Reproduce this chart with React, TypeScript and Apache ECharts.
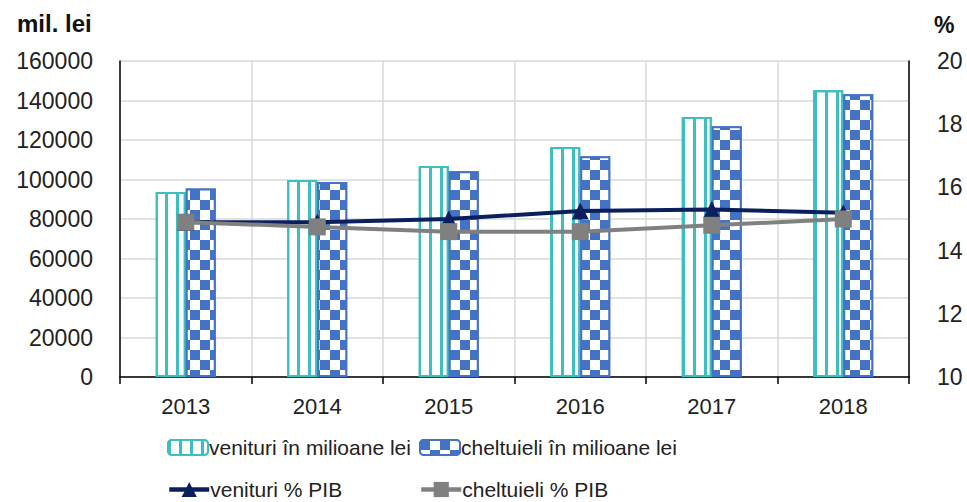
import React, { useEffect, useRef } from "react";
import * as echarts from "echarts";

const years = ["2013", "2014", "2015", "2016", "2017", "2018"];
const venituriMil = [93700, 99700, 106800, 116400, 131600, 145200];
const cheltuieliMil = [95400, 98700, 104200, 111800, 127000, 143200];
const venituriPib = [14.9, 14.9, 15.0, 15.25, 15.3, 15.2];
const cheltuieliPib = [14.9, 14.75, 14.6, 14.6, 14.8, 15.0];

const FONT = "Liberation Sans";
const TEAL = "#3BBFBF";
const BLUE = "#4472C4";
const NAVY = "#0B1F5E";
const GRAY = "#808080";

export default function App() {
  const ref = useRef<HTMLDivElement>(null);
  useEffect(() => {
    if (!ref.current) return;
    const chart = echarts.init(ref.current, undefined, { renderer: "svg" });
    const legendText = { fontFamily: FONT, fontSize: 21, color: "#222" };
    const mkLegend = (name: string, left: number, top: number, h: number, line: boolean) => ({
      data: [name],
      left,
      top,
      padding: 0,
      itemWidth: 40,
      itemHeight: h,
      itemGap: 0,
      textStyle: { ...legendText, padding: [0, 0, 0, -4] },
      ...(line ? { lineStyle: { width: 4.5 } } : {}),
    });
    chart.setOption({
      animation: false,
      backgroundColor: "#fff",
      textStyle: { fontFamily: FONT },
      grid: { left: 120, right: 58, top: 61, bottom: 125 },
      legend: [
        mkLegend("venituri în milioane lei", 167, 437, 15, false),
        mkLegend("cheltuieli în milioane lei", 419, 437, 15, false),
        mkLegend("venituri % PIB", 167, 479, 19, true),
        mkLegend("cheltuieli % PIB", 419, 479, 19, true),
      ],
      graphic: [
        {
          type: "text",
          left: 17,
          top: 11,
          style: { text: "mil. lei", font: `bold 24px ${FONT}`, fill: "#111" },
        },
        {
          type: "text",
          left: 934,
          top: 13,
          style: { text: "%", font: `bold 23px ${FONT}`, fill: "#111" },
        },
      ],
      xAxis: {
        type: "category",
        data: years,
        boundaryGap: true,
        axisLine: { lineStyle: { color: "#000", width: 1.5 } },
        axisTick: { show: true, length: 7, lineStyle: { color: "#000", width: 1.5 } },
        axisLabel: { fontFamily: FONT, fontSize: 22, color: "#222", margin: 18 },
        splitLine: { show: true, lineStyle: { color: "#d9d9d9", width: 1.5 } },
      },
      yAxis: [
        {
          type: "value",
          min: 0,
          max: 160000,
          interval: 20000,
          axisLine: { show: true, lineStyle: { color: "#000", width: 1.5 } },
          axisTick: { show: false },
          axisLabel: {
            fontFamily: FONT,
            fontSize: 23,
            color: "#222",
            margin: 27,
            formatter: (v: number) => String(v),
          },
          splitLine: { show: true, lineStyle: { color: "#d9d9d9", width: 1.5 } },
        },
        {
          type: "value",
          min: 10,
          max: 20,
          interval: 2,
          position: "right",
          axisLine: { show: true, lineStyle: { color: "#000", width: 1.5 } },
          axisTick: { show: false },
          axisLabel: { fontFamily: FONT, fontSize: 23, color: "#222", margin: 28 },
          splitLine: { show: false },
        },
      ],
      series: [
        {
          name: "venituri în milioane lei",
          type: "bar",
          data: venituriMil,
          barWidth: 30,
          barGap: "0%",
          itemStyle: {
            color: "#ffffff",
            borderColor: TEAL,
            borderWidth: 2,
            decal: {
              symbol: "rect",
              symbolSize: 1,
              dashArrayX: [3, 8],
              dashArrayY: [8, 0],
              color: TEAL,
              rotation: 0,
            },
          },
        },
        {
          name: "cheltuieli în milioane lei",
          type: "bar",
          data: cheltuieliMil,
          barWidth: 30,
          barGap: "0%",
          itemStyle: {
            color: BLUE,
            borderColor: BLUE,
            borderWidth: 2,
            decal: {
              symbol: "rect",
              symbolSize: 1,
              dashArrayX: [[10, 10], [0, 10, 10, 0]],
              dashArrayY: [10, 0],
              color: "#ffffff",
              rotation: 0,
            },
          },
        },
        {
          name: "venituri % PIB",
          type: "line",
          yAxisIndex: 1,
          data: venituriPib,
          symbol: "triangle",
          symbolSize: 17,
          lineStyle: { color: NAVY, width: 4 },
          itemStyle: { color: NAVY },
        },
        {
          name: "cheltuieli % PIB",
          type: "line",
          yAxisIndex: 1,
          data: cheltuieliPib,
          symbol: "rect",
          symbolSize: 17,
          lineStyle: { color: GRAY, width: 4 },
          itemStyle: { color: GRAY },
        },
      ],
    });
    return () => chart.dispose();
  }, []);
  return (
    <div
      ref={ref}
      style={{ position: "fixed", left: 0, top: 0, width: 967, height: 502 }}
    />
  );
}
